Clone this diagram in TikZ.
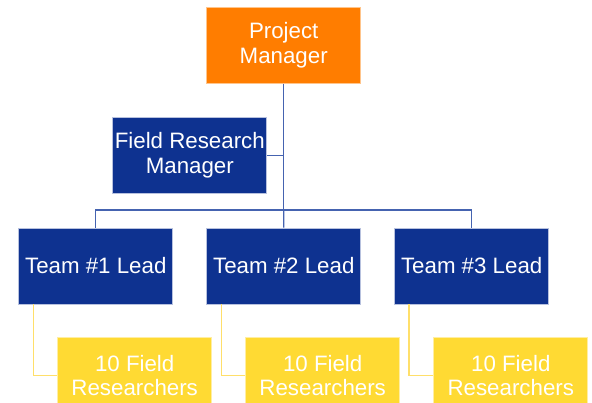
\documentclass[tikz,border=0pt]{standalone}
\usepackage{fontspec}
\setmainfont{Liberation Sans}
\definecolor{pmorange}{HTML}{FF7D00}
\definecolor{leadblue}{HTML}{0E3290}
\definecolor{fieldyellow}{HTML}{FFDA33}
\definecolor{bluelink}{HTML}{4563B0}
\definecolor{yellowlink}{HTML}{FFDF6A}
\begin{document}
\begin{tikzpicture}[x=1pt,y=-1pt,
  box/.style={minimum width=154pt,minimum height=76pt,inner sep=0pt,
    align=center,text=white,line width=0.7pt,
    font=\fontsize{22.3}{24.5}\selectfont},
  pmbox/.style={box,fill=pmorange,draw=pmorange!45!white},
  leadbox/.style={box,fill=leadblue,draw=leadblue!30!white},
  fieldbox/.style={box,fill=fieldyellow,draw=fieldyellow!45!white},
  bluelinkstyle/.style={draw=bluelink,line width=1.3pt},
  yellowlinkstyle/.style={draw=yellowlink,line width=1.4pt}]
\useasboundingbox (0,0) rectangle (592,403);
\clip (0,0) rectangle (592,403);

% boxes
\node[pmbox] (pm) at (283.7,45.3) {Project\\Manager};
\node[leadbox] (frm) at (189.8,155.3) {Field Research\\Manager};
\node[leadbox] (t1) at (95.8,266) {Team \#1 Lead};
\node[leadbox] (t2) at (283.8,266) {Team \#2 Lead};
\node[leadbox] (t3) at (471.7,266) {Team \#3 Lead};
\node[fieldbox] (f1) at (134.7,375.5) {10 Field\\Researchers};
\node[fieldbox] (f2) at (322.7,375.5) {10 Field\\Researchers};
\node[fieldbox] (f3) at (510.8,375.5) {10 Field\\Researchers};

% reporting lines
\coordinate (junction) at (283.7,210);
\draw[bluelinkstyle] (pm.south) -- (junction);
\draw[bluelinkstyle] (frm.east) -- (frm.east -| pm.south);
\draw[bluelinkstyle] (t1.north) |- (junction) -| (t3.north);
\draw[bluelinkstyle] (junction) -- (t2.north);

% team links
\draw[yellowlinkstyle] ([xshift=14.8pt]t1.south west) |- (f1.west);
\draw[yellowlinkstyle] ([xshift=14.8pt]t2.south west) |- (f2.west);
\draw[yellowlinkstyle] ([xshift=14.8pt]t3.south west) |- (f3.west);
\end{tikzpicture}
\end{document}
